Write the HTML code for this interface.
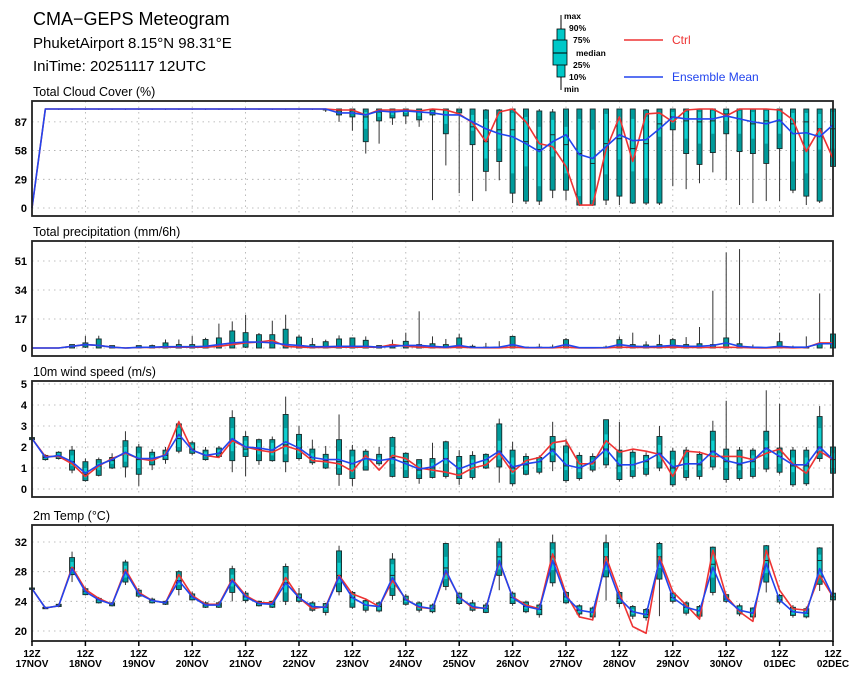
<!DOCTYPE html>
<html><head><meta charset="utf-8">
<style>
html,body{margin:0;padding:0;background:#fff;}
svg{display:block;font-family:"Liberation Sans",sans-serif;}
</style></head>
<body>
<svg id="chart" width="860" height="679" viewBox="0 0 860 679" xmlns="http://www.w3.org/2000/svg">
<g>
<text x="33" y="25" font-size="18">CMA−GEPS Meteogram</text>
<text x="33" y="48" font-size="15">PhuketAirport 8.15°N 98.31°E</text>
<text x="33" y="71" font-size="15">IniTime: 20251117 12UTC</text>
</g>
<g font-size="8.5" font-weight="bold">
<line x1="561" y1="15" x2="561" y2="90" stroke="#000" stroke-width="1"/>
<rect x="557" y="29" width="8" height="48" fill="#00c8c8" stroke="#000" stroke-width="0.8"/>
<rect x="553" y="40" width="14" height="25" fill="#00c8c8" stroke="#000" stroke-width="0.8"/>
<line x1="553" y1="53" x2="567" y2="53" stroke="#000"/>
<text x="564" y="19">max</text><text x="569" y="31">90%</text><text x="573" y="43">75%</text>
<text x="576" y="56">median</text><text x="573" y="68">25%</text><text x="569" y="80">10%</text><text x="564" y="92">min</text>
<line x1="624" y1="40" x2="663" y2="40" stroke="#ee3333" stroke-width="1.5"/>
<text x="672" y="44" font-size="12" font-weight="normal" fill="#ee3333">Ctrl</text>
<line x1="624" y1="77" x2="663" y2="77" stroke="#2244ee" stroke-width="1.5"/>
<text x="672" y="81" font-size="12" font-weight="normal" fill="#2244ee">Ensemble Mean</text>
</g>
</svg>
<script>
var dayLabels = ["17NOV","18NOV","19NOV","20NOV","21NOV","22NOV","23NOV","24NOV","25NOV","26NOV","27NOV","28NOV","29NOV","30NOV","01DEC","02DEC"];

var cloudTicks = [0,29,58,87];
var cloudCtrl = [0,100,100,100,100,100,100,100,100,100,100,100,100,100,100,100,100,100,100,100,100,100,100,99,99,94,99,99,99,98,100,99,95,86,67,97,100,87,65,62,42,3,3,59,92,47,95,96,87,99,100,100,93,100,100,100,99,89,57,80,50];
var cloudMean = [0,100,100,100,100,100,100,100,100,100,100,100,100,100,100,100,100,100,100,100,100,100,100,96,96,94,98,97,98,97,96,94,94,87,80,75,72,65,57,67,74,54,50,62,74,68,69,80,92,90,90,90,93,90,87,85,89,75,76,72,84];
var cloudMin = [0,99,99,99,99,99,99,99,99,99,99,99,99,99,99,99,99,99,99,99,99,99,97,87,78,55,65,84,85,82,8,43,15,7,17,28,5,4,3,10,8,2,2,3,3,4,3,3,22,19,25,36,28,3,5,7,7,15,3,5,40];
var cloudP10 = [0,100,100,100,100,100,100,100,100,100,100,100,100,100,100,100,100,100,100,100,100,100,99,94,92,67,88,91,93,89,94,75,96,64,37,47,15,7,7,18,18,3,3,8,12,5,5,5,79,55,44,56,75,57,55,45,60,18,12,7,42];
var cloudP25 = [0,100,100,100,100,100,100,100,100,100,100,100,100,100,100,100,100,100,100,100,100,100,100,96,95,80,92,94,96,93,97,85,98,78,50,60,35,42,22,52,35,12,8,34,49,37,30,72,86,70,65,75,88,75,70,65,75,47,35,59,60];
var cloudMed = [0,100,100,100,100,100,100,100,100,100,100,100,100,100,100,100,100,100,100,100,100,100,100,98,98,92,97,97,98,97,99,94,99,82,67,79,79,67,59,74,64,55,45,65,70,60,65,85,92,88,87,88,95,90,85,88,88,85,87,80,80];
var cloudP75 = [0,100,100,100,100,100,100,100,100,100,100,100,100,100,100,100,100,100,100,100,100,100,100,99,99,97,99,99,99,99,100,98,100,94,90,95,96,92,82,89,82,90,79,95,92,90,92,95,97,97,97,98,99,98,97,98,98,96,96,95,97];
var cloudP90 = [0,100,100,100,100,100,100,100,100,100,100,100,100,100,100,100,100,100,100,100,100,100,100,100,100,100,100,100,100,100,100,100,100,100,99,99,100,100,98,97,100,100,100,100,100,100,99,100,100,100,100,100,100,100,100,100,100,100,100,100,100];
var cloudMax = [0,100,100,100,100,100,100,100,100,100,100,100,100,100,100,100,100,100,100,100,100,100,100,100,100,100,100,100,100,100,100,100,100,100,100,100,100,100,100,100,100,100,100,100,100,100,100,100,100,100,100,100,100,100,100,100,100,100,100,100,100];

var precTicks = [0,17,34,51];
var precCtrl = [0,0,0,1,2,1.5,0.5,0,0.3,0.3,0.5,0.5,0.5,0.5,1,2,3,3.5,4.5,1,0.5,0.3,0.3,0.5,0.5,0.5,0.5,2,1,0.5,0.3,0.2,0.5,0.2,0.1,0.1,0.5,0.1,0.1,0.1,0.5,0,0,0.1,0.5,0.3,0.3,0.3,0.5,0.3,0.3,0.3,0.5,0.3,0.1,0,0.3,0.1,0.3,3,3];
var precMean = [0,0,0,1,2,1.5,0.5,0,0.4,0.5,0.8,0.8,0.8,1,2,3,3.5,3.5,3,2,1.5,0.8,0.8,1,1,1,0.5,1,1.5,1.5,1,0.5,1.5,0.3,0.3,0.5,2,0.3,0.3,0.3,2,0.2,0.2,0.3,2,1,0.8,1,1.5,1,1,1.5,3,1,0.5,0.3,1,0.5,0.5,2.5,2.5];
var precMin = [0,0,0,0,0,0,0,0,0,0,0,0,0,0,0,0,0,0,0,0,0,0,0,0,0,0,0,0,0,0,0,0,0,0,0,0,0,0,0,0,0,0,0,0,0,0,0,0,0,0,0,0,0,0,0,0,0,0,0,0,0];
var precP10 = [0,0,0,0,0.5,0,0,0,0,0,0,0,0,0,0,0,0.5,0,0,0,0,0,0,0,0,0,0,0,0,0,0,0,0,0,0,0,0,0,0,0,0,0,0,0,0,0,0,0,0,0,0,0,0,0,0,0,0,0,0,0,0];
var precP90 = [0,0,0,2,3,5.3,1.4,0,1.4,1.4,3,2,2,5,5.9,10,9,7.8,7.8,11,6.4,2,3.7,5.3,5.9,4.5,1.4,2,3.9,2,2.5,2,5.9,1,0.5,0.5,6.8,0.5,0.5,0.5,4.9,0,0,0.5,4.9,2,1.8,2,4.9,2,2.5,2,5.9,2.5,0.5,0,3.7,0.5,0.5,2.5,8.2];
var precMax = [0,0,0,2,7,7.2,1.4,0,1.4,2,5,5,7,6,14.3,15.6,19.5,8.8,16,19.5,7.8,5.9,4.9,7.4,5.9,6.8,1.4,4.9,9,21.5,6.8,5.3,8.4,2,3,4,7.2,0.5,2.5,2,5.9,0,0,1.4,6.8,9,3.9,7.8,5.9,6.4,12.3,33.6,56,58,2,0,9,1.4,6.8,32,8.2];

var windTicks = [0,1,2,3,4,5];
var windCtrl = [2.4,1.55,1.55,1.2,0.6,1.1,1.45,1.7,1.45,1.35,1.65,3.2,1.85,1.6,1.5,2.3,2.0,1.85,1.75,2.05,1.85,1.35,1.3,1.2,0.85,1.6,0.9,1.6,1.45,1.0,0.9,0.8,0.65,1.0,1.15,1.7,0.8,1.35,1.5,2.2,2.3,1.2,1.2,2.3,1.75,1.9,1.8,1.65,0.6,1.8,1.75,1.55,1.55,1.55,1.4,1.7,1.9,1.2,0.75,1.8,1.4];
var windMean = [2.4,1.5,1.6,1.3,0.75,1.15,1.4,1.75,1.45,1.45,1.6,2.6,1.85,1.6,1.7,2.4,2.0,1.95,1.85,2.25,1.95,1.5,1.4,1.4,1.2,1.45,1.35,1.45,1.2,0.95,1.05,1.45,0.95,1.2,1.4,1.8,1.05,1.2,1.3,1.85,1.15,1.0,1.3,1.9,1.15,1.15,1.35,1.7,1.05,1.2,1.2,1.8,1.35,1.2,1.35,1.95,1.55,1.15,1.15,2.0,1.4];
var windMin = [2.3,1.35,1.4,0.75,0.35,0.6,0.95,0.55,0.15,0.9,1.2,1.7,1.6,1.35,1.5,0.8,0.6,1.15,1.3,0.8,1.35,1.15,0.95,0.15,0.15,0.9,1.1,0.55,0.55,0.25,0.5,0.5,0.2,0.45,0.95,0.3,0.15,0.65,0.7,0.85,0.3,0.4,0.8,1.0,0.35,0.5,0.6,0.85,0.1,0.4,0.45,0.9,0.3,0.4,0.5,0.8,0.7,0.1,0.15,1.3,0.6];
var windP10 = [2.35,1.4,1.45,0.9,0.4,0.65,1.0,1.05,0.7,1.15,1.4,1.8,1.7,1.4,1.55,1.35,1.55,1.35,1.35,1.3,1.45,1.25,1.0,0.7,0.5,0.9,1.2,0.6,0.55,0.5,0.55,0.6,0.5,0.55,1.0,1.05,0.25,0.7,0.8,1.3,0.4,0.5,0.9,1.15,0.45,0.6,0.7,1.0,0.2,0.55,0.6,1.05,0.45,0.5,0.6,0.95,0.8,0.2,0.25,1.45,0.75];
var windP25 = [2.37,1.45,1.5,1.1,0.55,0.9,1.2,1.3,1.0,1.3,1.5,2.0,1.8,1.55,1.65,1.8,1.75,1.65,1.6,1.65,1.7,1.35,1.2,1.0,0.8,1.1,1.3,1.2,0.9,0.7,0.8,1.2,0.75,0.9,1.2,1.4,0.7,0.9,1.0,1.6,0.9,0.8,1.1,1.5,0.8,0.9,1.0,1.3,0.7,0.9,0.9,1.4,1.0,0.9,1.0,1.5,1.2,0.8,0.8,1.8,1.0];
var windMed = [2.4,1.5,1.6,1.3,0.7,1.1,1.35,1.7,1.4,1.45,1.6,2.4,1.9,1.6,1.7,2.3,1.9,1.9,1.85,2.1,1.95,1.5,1.35,1.3,1.2,1.45,1.35,1.5,1.3,0.9,1.0,1.45,1.0,1.2,1.4,1.8,1.0,1.15,1.3,1.9,1.1,1.0,1.25,1.9,1.1,1.15,1.3,1.7,1.0,1.2,1.15,1.8,1.3,1.15,1.3,1.95,1.55,1.1,1.1,2.0,1.4];
var windP75 = [2.43,1.55,1.7,1.6,1.0,1.25,1.4,2.0,1.7,1.6,1.75,2.9,2.1,1.75,1.85,2.9,2.3,2.2,2.2,2.9,2.3,1.7,1.5,1.8,1.55,1.6,1.5,2.0,1.5,1.2,1.25,1.9,1.3,1.4,1.5,2.3,1.5,1.4,1.4,2.2,1.7,1.3,1.4,2.6,1.5,1.5,1.5,2.1,1.4,1.5,1.4,2.3,1.6,1.5,1.6,2.3,1.7,1.5,1.5,2.9,1.7];
var windP90 = [2.45,1.6,1.75,1.85,1.3,1.4,1.5,2.3,2.0,1.75,1.85,3.1,2.2,1.85,1.95,3.4,2.5,2.35,2.35,3.55,2.6,1.9,1.65,2.35,1.85,1.8,1.65,2.45,1.7,1.4,1.45,2.25,1.55,1.6,1.65,3.1,1.85,1.55,1.5,2.5,2.05,1.6,1.55,3.3,1.85,1.75,1.6,2.5,1.8,1.85,1.65,2.75,1.9,1.85,1.85,2.75,1.95,1.85,1.85,3.45,2.0];
var windMax = [2.5,1.65,1.8,2.05,1.45,1.5,1.7,2.75,2.15,1.9,2.0,3.25,2.3,2.0,2.05,3.75,2.75,2.4,2.5,4.4,3.0,2.35,2.05,3.55,2.1,1.9,2.0,2.5,1.75,1.4,2.2,2.3,1.85,1.8,1.7,3.35,2.25,1.7,1.6,3.2,2.4,1.75,1.7,3.3,3.2,1.9,1.75,3.0,1.95,2.0,1.8,3.25,4.2,2.0,1.95,4.7,4.05,2.0,2.0,3.95,2.1];

var tempTicks = [20,24,28,32];
var tempCtrl = [25.7,23.1,23.4,28.6,25.6,24.4,23.6,28.3,25.2,24.1,23.8,27.6,24.8,23.6,23.6,27.0,24.8,23.8,23.8,27.2,24.5,23.0,23.3,27.5,25.0,24.3,23.3,26.8,24.3,23.2,23.0,28.0,24.6,23.1,23.1,29.3,24.6,23.5,23.0,30.4,25.0,21.9,21.5,30.0,25.1,20.6,19.7,30.0,25.3,23.5,21.6,30.9,24.7,22.6,21.3,30.9,25.5,23.0,22.8,27.5,24.6];
var tempMean = [25.7,23.1,23.4,28.4,25.3,24.2,23.6,28.0,25.0,24.1,23.8,26.8,24.6,23.5,23.5,26.8,24.6,23.7,23.6,26.5,24.5,23.3,23.2,27.3,24.5,23.5,23.3,27.2,24.2,23.3,23.0,28.2,24.5,23.3,23.0,29.5,24.5,23.3,22.9,29.5,24.6,22.8,22.5,29.3,24.4,22.6,22.2,29.5,24.5,23.2,22.7,28.6,24.3,22.8,22.4,29.1,24.2,22.6,22.4,28.4,24.6];
var tempMin = [25.6,23.0,23.2,26.6,24.8,23.7,23.3,26.2,24.5,23.7,23.5,24.8,24.1,23.1,23.1,24.0,23.8,23.3,23.1,23.5,23.8,22.6,22.1,24.8,23.0,22.5,22.5,24.2,23.4,22.5,22.4,25.5,23.5,22.6,22.4,25.5,23.4,22.4,21.8,26.0,23.6,21.8,21.4,24.1,23.2,21.6,21.4,22.0,23.7,22.1,21.7,24.8,23.8,22.0,21.6,25.2,23.6,21.8,21.7,25.4,24.0];
var tempP10 = [25.6,23.0,23.3,27.6,24.9,23.8,23.4,26.6,24.7,23.8,23.6,25.6,24.2,23.2,23.2,25.2,24.1,23.4,23.2,24.0,24.0,22.8,22.5,25.3,23.2,22.8,22.7,24.8,23.6,22.8,22.6,26.0,23.7,22.8,22.5,27.5,23.7,22.6,22.2,26.5,23.8,22.3,21.9,27.3,23.7,22.0,21.8,27.0,24.0,22.4,22.0,25.2,24.0,22.3,21.9,26.6,23.9,22.1,21.9,26.3,24.2];
var tempP25 = [25.6,23.05,23.35,28.0,25.1,24.0,23.5,27.2,24.8,23.9,23.7,26.2,24.4,23.35,23.35,26.0,24.3,23.55,23.4,25.2,24.2,23.0,22.8,26.5,23.8,23.2,22.9,25.8,23.9,23.0,22.8,27.0,24.1,23.0,22.8,28.3,24.1,23.0,22.5,28.2,24.2,22.5,22.2,28.2,24.0,22.3,22.0,28.5,24.2,22.8,22.3,27.2,24.1,22.5,22.1,27.8,24.0,22.3,22.1,27.2,24.4];
var tempMed = [25.7,23.1,23.4,28.5,25.3,24.2,23.6,28.0,25.0,24.1,23.8,26.8,24.6,23.5,23.5,26.8,24.6,23.7,23.6,26.5,24.5,23.3,23.2,27.5,24.5,23.5,23.3,27.5,24.2,23.3,23.0,28.5,24.5,23.3,23.0,30.0,24.5,23.3,22.9,30.0,24.6,22.8,22.5,30.0,24.4,22.6,22.2,30.0,24.5,23.2,22.7,29.0,24.3,22.8,22.4,29.5,24.2,22.6,22.4,29.5,24.6];
var tempP75 = [25.8,23.15,23.5,29.3,25.5,24.3,23.7,28.8,25.3,24.2,23.9,27.5,24.9,23.7,23.7,27.6,24.9,23.9,23.8,27.8,24.8,23.6,23.5,29.2,25.0,23.9,23.6,29.0,24.5,23.6,23.3,30.0,24.9,23.6,23.3,31.2,24.9,23.7,23.3,31.0,25.0,23.2,22.9,31.2,24.9,23.0,22.6,31.0,24.9,23.6,23.1,30.5,24.6,23.2,22.8,30.6,24.5,23.0,22.8,30.3,24.9];
var tempP90 = [25.8,23.2,23.6,29.9,25.7,24.4,23.8,29.3,25.5,24.3,24.0,28.0,25.0,23.8,23.8,28.4,25.1,24.0,24.0,28.7,25.0,23.8,23.7,30.8,25.2,24.1,23.8,29.7,24.7,23.8,23.5,31.8,25.1,23.8,23.5,32.0,25.1,23.9,23.5,31.9,25.2,23.4,23.1,31.9,25.2,23.3,22.9,31.8,25.1,23.8,23.3,31.3,24.9,23.4,23.1,31.5,24.8,23.2,23.0,31.2,25.1];
var tempMax = [25.9,23.3,23.7,30.7,25.9,24.6,23.9,29.6,25.8,24.5,24.1,28.2,25.3,24.0,24.0,28.8,25.4,24.1,24.1,29.1,25.8,24.0,23.8,31.5,25.4,24.4,24.0,30.5,25.0,24.0,23.7,31.9,25.2,24.2,23.8,32.5,25.3,24.1,23.7,33.0,25.4,23.6,23.3,33.0,25.4,23.5,23.1,32.0,25.2,24.0,23.5,31.4,25.0,23.7,23.2,31.6,25.0,23.5,23.3,31.3,25.2];

var SVGNS = "http://www.w3.org/2000/svg";
var chartEl = document.getElementById("chart");
var XLEFT = 32, XRIGHT = 833, NSTEP = 60;
function xScale(i){ return XLEFT + (XRIGHT - XLEFT) * i / NSTEP; }
function num(v){ var n = Number(v); return isFinite(n) ? n.toFixed(2) : "0"; }
function mk(tag, attrs, parent){
  var e = document.createElementNS(SVGNS, tag);
  var keys = Object.keys(attrs);
  for (var j = 0; j < keys.length; j++){
    var val = attrs[keys[j]];
    if (typeof val === "number") val = num(val);
    e.setAttribute(keys[j], String(val));
  }
  (parent || chartEl).appendChild(e);
  return e;
}
function pick(arr, i, fb){ return (arr && typeof arr[i] === "number") ? arr[i] : fb; }

var panels = [
  {key:"cloud", title:"Total Cloud Cover (%)", top:101, bottom:216, vmin:0, vmax:100, y0:208, y1:109,
   ticks:cloudTicks, ctrl:cloudCtrl, mean:cloudMean, mn:cloudMin, p10:cloudP10, p25:cloudP25, md:cloudMed, p75:cloudP75, p90:cloudP90, mx:cloudMax},
  {key:"precip", title:"Total precipitation (mm/6h)", top:241, bottom:356, vmin:0, vmax:51, y0:348, y1:261,
   ticks:precTicks, ctrl:precCtrl, mean:precMean, mn:precMin, p10:precP10, p25:null, md:null, p75:null, p90:precP90, mx:precMax},
  {key:"wind", title:"10m wind speed (m/s)", top:381, bottom:497, vmin:0, vmax:5, y0:489, y1:384,
   ticks:windTicks, ctrl:windCtrl, mean:windMean, mn:windMin, p10:windP10, p25:windP25, md:windMed, p75:windP75, p90:windP90, mx:windMax},
  {key:"temp", title:"2m Temp (°C)", top:525, bottom:641, vmin:20, vmax:32, y0:631, y1:542,
   ticks:tempTicks, ctrl:tempCtrl, mean:tempMean, mn:tempMin, p10:tempP10, p25:tempP25, md:tempMed, p75:tempP75, p90:tempP90, mx:tempMax}
];

function drawPanel(p){
  function yS(v){ return p.y0 + (p.y1 - p.y0) * (v - p.vmin) / (p.vmax - p.vmin); }
  var g = mk("g", {});
  
  
  var t = mk("text", {x:33, y:p.top - 5, "font-size":12.5}, g);
  t.textContent = p.title;
  
  
  for (var k = 0; k < p.ticks.length; k++){
    var v = p.ticks[k];
    var y = yS(v);
    var gl = mk("line", {x1:XLEFT, x2:XRIGHT, y1:y, y2:y, stroke:"#aaa", "stroke-width":0.8, "stroke-dasharray":"1.5,4"}, g);
    
    
    var tl = mk("text", {x:27, y:y + 4, "font-size":11, "font-weight":"bold", "text-anchor":"end"}, g);
    tl.textContent = String(v);
    
    
  }
  for (var d = 1; d < dayLabels.length - 1; d++){
    var xv = xScale(d * 4);
    var vl = mk("line", {x1:xv, x2:xv, y1:p.top, y2:p.bottom, stroke:"#aaa", "stroke-width":0.8, "stroke-dasharray":"1.5,4"}, g);
    
    
  }
  var n = p.ctrl.length;
  for (var i = 0; i < n; i++){
    var x = xScale(i);
    var m = pick(p.mean, i, 0);
    var bg = mk("g", {}, g);
    
    
    var hi = pick(p.mx, i, m), lo = pick(p.mn, i, m);
    mk("line", {x1:x, x2:x, y1:yS(hi), y2:yS(lo), stroke:"#333", "stroke-width":1}, bg);
    var a90 = pick(p.p90, i, m), a10 = pick(p.p10, i, m);
    var h1 = yS(a10) - yS(a90);
    if (h1 > 0.3) mk("rect", {x:x - 2.5, y:yS(a90), width:5, height:h1, fill:"#009a9a", stroke:"#1a2a2a", "stroke-width":0.9}, bg);
    if (p.p25){
      var a75 = pick(p.p75, i, m), a25 = pick(p.p25, i, m), am = pick(p.md, i, m);
      var h2 = yS(a25) - yS(a75);
      if (h2 > 0.3) mk("rect", {x:x - 1.5, y:yS(a75), width:3, height:h2, fill:"#10d0d0", stroke:"none"}, bg);
      if (h1 > 1) mk("line", {x1:x - 2.5, x2:x + 2.5, y1:yS(am), y2:yS(am), stroke:"#1a2a2a", "stroke-width":1}, bg);
    }
  }
  var ptsC = [], ptsM = [];
  for (var q = 0; q < n; q++){
    ptsC.push(num(xScale(q)) + "," + num(yS(pick(p.ctrl, q, 0))));
    ptsM.push(num(xScale(q)) + "," + num(yS(pick(p.mean, q, 0))));
  }
  var lc = mk("polyline", {points:ptsC.join(" "), fill:"none", stroke:"#ee3333", "stroke-width":1.6, "stroke-linejoin":"round"}, g);
  
  
  var lm = mk("polyline", {points:ptsM.join(" "), fill:"none", stroke:"#2244ee", "stroke-width":1.6, "stroke-linejoin":"round"}, g);
  
  
  var fr = mk("rect", {x:XLEFT, y:p.top, width:XRIGHT - XLEFT, height:p.bottom - p.top, fill:"none", stroke:"#222", "stroke-width":1.8}, g);
  
  
}

for (var pi = 0; pi < panels.length; pi++){
  try { drawPanel(panels[pi]); } catch(err) {}
}

try {
  var xg = mk("g", {"font-size":10, "font-weight":"bold", "text-anchor":"middle"});
  
  
  for (var dd = 0; dd < dayLabels.length; dd++){
    var xx = xScale(dd * 4);
    var tk = mk("line", {x1:xx, x2:xx, y1:641, y2:646, stroke:"#000", "stroke-width":1.5}, xg);
    
    
    var ta = mk("text", {x:xx, y:657}, xg);
    ta.textContent = "12Z";
    
    
    var tb = mk("text", {x:xx, y:667}, xg);
    tb.textContent = dayLabels[dd];
    
    
  }
} catch(err) {}
</script>
</body></html>
